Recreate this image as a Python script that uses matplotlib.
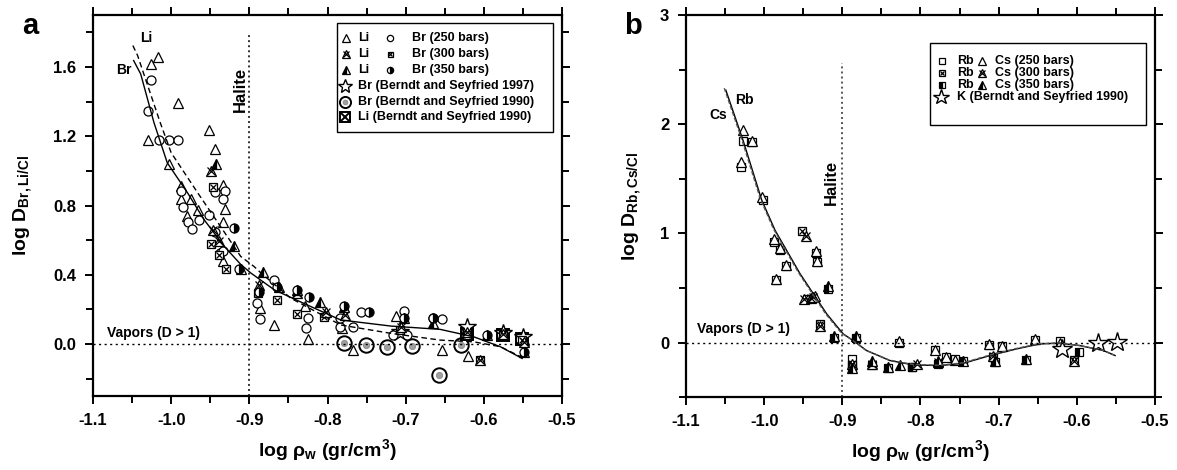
import matplotlib
matplotlib.use("Agg")
import matplotlib.pyplot as plt
from matplotlib.ticker import MultipleLocator, FormatStrFormatter
from matplotlib.patches import Rectangle

plt.rcParams['font.family'] = ['Liberation Sans', 'DejaVu Sans']
plt.rcParams['font.weight'] = 'bold'
plt.rcParams['axes.unicode_minus'] = False
plt.rcParams['mathtext.fontset'] = 'custom'
plt.rcParams['mathtext.rm'] = 'Liberation Sans:bold'
plt.rcParams['mathtext.it'] = 'Liberation Sans:bold'
plt.rcParams['mathtext.bf'] = 'Liberation Sans:bold'

# ---------------- Panel a data ----------------
li250_x = [-1.017, -1.026, -0.991, -1.029, -1.003, -0.952, -0.944, -0.987, -0.988, -0.974, -0.966, -0.980,
           -0.934, -0.931, -0.934, -0.934, -0.886, -0.868, -0.825, -0.829, -0.781, -0.767, -0.713, -0.654, -0.620]
li250_y = [1.656, 1.617, 1.391, 1.177, 1.038, 1.235, 1.129, 0.912, 0.835, 0.835, 0.773, 0.742,
           0.916, 0.781, 0.703, 0.480, 0.207, 0.110, 0.027, 0.220, 0.091, -0.035, 0.162, -0.035, -0.070]
br250_x = [-1.026, -1.029, -1.016, -1.003, -0.991, -0.987, -0.985, -0.979, -0.973, -0.964, -0.951, -0.944,
           -0.931, -0.934, -0.944, -0.937, -0.934, -0.886, -0.890, -0.868, -0.825, -0.828, -0.784, -0.767,
           -0.757, -0.702, -0.716, -0.698, -0.654, -0.665, -0.784]
br250_y = [1.527, 1.347, 1.179, 1.179, 1.179, 0.883, 0.790, 0.703, 0.665, 0.719, 0.744, 0.877,
           0.883, 0.835, 0.645, 0.526, 0.535, 0.143, 0.240, 0.371, 0.149, 0.091, 0.097, 0.097,
           0.187, 0.191, 0.052, 0.052, 0.143, 0.149, 0.149]
br300_x = [-0.949, -0.939, -0.930, -0.946, -0.864, -0.839, -0.889, -0.804, -0.707, -0.622, -0.605, -0.575, -0.551]
br300_y = [0.580, 0.516, 0.433, 0.908, 0.255, 0.174, 0.297, 0.158, 0.081, 0.052, -0.093, 0.052, 0.023]
li300_x = [-0.949, -0.947, -0.939, -0.888, -0.839, -0.802, -0.778, -0.706, -0.622, -0.605, -0.549, -0.575]
li300_y = [0.999, 0.661, 0.593, 0.342, 0.294, 0.187, 0.168, 0.097, 0.070, -0.090, 0.013, 0.060]
li350_x = [-0.943, -0.920, -0.911, -0.882, -0.862, -0.839, -0.810, -0.779, -0.702, -0.665, -0.596, -0.549]
li350_y = [1.038, 0.568, 0.433, 0.419, 0.332, 0.313, 0.245, 0.216, 0.149, 0.120, 0.052, -0.045]
br350_x = [-0.920, -0.913, -0.864, -0.839, -0.824, -0.779, -0.747, -0.702, -0.665, -0.596, -0.549, -0.888]
br350_y = [0.671, 0.433, 0.332, 0.313, 0.274, 0.220, 0.187, 0.149, 0.149, 0.052, -0.045, 0.300]
br1997_x = [-0.707, -0.622, -0.575, -0.550]
br1997_y = [0.070, 0.100, 0.065, 0.040]
br1990_x = [-0.779, -0.751, -0.724, -0.692, -0.658, -0.629]
br1990_y = [0.004, -0.006, -0.015, -0.012, -0.176, -0.006]
li1990_x = [-0.622, -0.575, -0.551]
li1990_y = [0.060, 0.050, 0.030]

brfit_x = [-1.048, -1.039, -1.022, -1.005, -0.979, -0.958, -0.932, -0.911, -0.898, -0.868, -0.826, -0.783,
           -0.719, -0.656, -0.613, -0.579, -0.551]
brfit_y = [1.637, 1.560, 1.279, 1.047, 0.873, 0.719, 0.564, 0.460, 0.410, 0.313, 0.226, 0.139,
           0.104, 0.085, 0.042, -0.015, -0.083]
lifit_x = [-1.049, -1.043, -1.014, -1.000, -0.966, -0.937, -0.911, -0.894, -0.885, -0.847, -0.783,
           -0.719, -0.656, -0.613, -0.579, -0.551]
lifit_y = [1.724, 1.667, 1.279, 1.105, 0.873, 0.680, 0.506, 0.448, 0.410, 0.265, 0.110,
           0.062, 0.023, 0.013, -0.015, -0.077]

# ---------------- Panel b data ----------------
cs250_x = [-1.027, -1.016, -1.030, -1.003, -0.987, -0.980, -0.972, -0.985, -0.934, -0.932, -0.935,
           -0.828, -0.781, -0.767, -0.756, -0.712, -0.696, -0.654, -0.622]
cs250_y = [1.945, 1.850, 1.650, 1.330, 0.950, 0.870, 0.710, 0.580, 0.840, 0.750, 0.430,
           0.010, -0.070, -0.130, -0.160, -0.010, -0.030, 0.030, 0.000]
rb250_x = [-1.027, -1.016, -1.029, -1.002, -0.987, -0.980, -0.972, -0.985, -0.934, -0.932, -0.888,
           -0.828, -0.781, -0.767, -0.756, -0.712, -0.696, -0.654, -0.622]
rb250_y = [1.850, 1.840, 1.610, 1.310, 0.920, 0.850, 0.700, 0.570, 0.820, 0.740, -0.150,
           -0.000, -0.070, -0.130, -0.150, -0.020, -0.030, 0.020, 0.010]
cs300_x = [-0.946, -0.949, -0.940, -0.937, -0.929, -0.888, -0.862, -0.805, -0.777, -0.707, -0.604]
cs300_y = [0.980, 0.400, 0.410, 0.420, 0.150, -0.200, -0.200, -0.200, -0.180, -0.120, -0.170]
rb300_x = [-0.952, -0.945, -0.929, -0.888, -0.862, -0.811, -0.707, -0.604]
rb300_y = [1.020, 0.400, 0.170, -0.220, -0.210, -0.220, -0.130, -0.160]
cs350_x = [-0.918, -0.910, -0.882, -0.888, -0.862, -0.841, -0.826, -0.777, -0.745, -0.705, -0.665]
cs350_y = [0.520, 0.060, 0.060, -0.230, -0.170, -0.220, -0.210, -0.170, -0.170, -0.170, -0.150]
rb350_x = [-0.918, -0.910, -0.882, -0.888, -0.841, -0.811, -0.777, -0.745, -0.705, -0.665, -0.597]
rb350_y = [0.490, 0.040, 0.040, -0.210, -0.230, -0.220, -0.200, -0.170, -0.180, -0.160, -0.090]
k1990_x = [-0.619, -0.573, -0.549]
k1990_y = [-0.060, -0.006, 0.003]

rbfit_x = [-1.049, -1.027, -1.003, -0.986, -0.954, -0.920, -0.899, -0.886, -0.869, -0.839, -0.809,
           -0.775, -0.745, -0.711, -0.677, -0.647, -0.622, -0.596, -0.566, -0.551]
rbfit_y = [2.312, 1.853, 1.303, 1.028, 0.630, 0.263, 0.080, 0.018, -0.073, -0.165, -0.205,
           -0.211, -0.190, -0.119, -0.058, -0.012, -0.006, -0.028, -0.073, -0.119]
csfit_x = [-1.051, -1.029, -1.005, -0.988, -0.956, -0.922, -0.901, -0.887, -0.870, -0.840, -0.810,
           -0.776, -0.746, -0.712, -0.678, -0.648, -0.623, -0.597, -0.567, -0.552]
csfit_y = [2.330, 1.870, 1.320, 1.040, 0.640, 0.270, 0.085, 0.022, -0.070, -0.160, -0.200,
           -0.208, -0.186, -0.116, -0.055, -0.010, -0.004, -0.026, -0.070, -0.115]

fig = plt.figure(figsize=(11.77, 4.70), dpi=100)
axa = fig.add_axes([0.0790, 0.1574, 0.3985, 0.8106])
axb = fig.add_axes([0.5828, 0.1550, 0.3985, 0.8130])

MS = 6.5

def pts(ax, x, y, kind, ms=MS, **kw):
    if kind == 'tri':
        ax.plot(x, y, ls='none', marker='^', ms=ms, mfc='white', mec='black', mew=0.9, **kw)
    elif kind == 'circ':
        ax.plot(x, y, ls='none', marker='o', ms=ms, mfc='white', mec='black', mew=0.9, **kw)
    elif kind == 'sq':
        ax.plot(x, y, ls='none', marker='s', ms=ms * 0.85, mfc='white', mec='black', mew=0.9, **kw)
    elif kind == 'trix':
        ax.plot(x, y, ls='none', marker='^', ms=ms, mfc='white', mec='black', mew=0.9, **kw)
        ax.plot(x, y, ls='none', marker='x', ms=ms * 0.9, mec='black', mew=0.9, **kw)
    elif kind == 'sqx':
        ax.plot(x, y, ls='none', marker='s', ms=ms * 0.8, mfc='white', mec='black', mew=0.9, **kw)
        ax.plot(x, y, ls='none', marker='x', ms=ms * 0.7, mec='black', mew=0.9, **kw)
    elif kind == 'trih':
        ax.plot(x, y, ls='none', marker='^', ms=ms, mfc='black', mfcalt='white', fillstyle='left',
                mec='black', mew=0.9, **kw)
    elif kind == 'circh':
        ax.plot(x, y, ls='none', marker='o', ms=ms, mfc='black', mfcalt='white', fillstyle='right',
                mec='black', mew=0.9, **kw)
    elif kind == 'sqh':
        ax.plot(x, y, ls='none', marker='s', ms=ms * 0.85, mfc='black', mfcalt='white', fillstyle='left',
                mec='black', mew=0.9, **kw)
    elif kind == 'star':
        ax.plot(x, y, ls='none', marker='*', ms=ms * 2.1, mfc='white', mec='black', mew=1.0, **kw)
    elif kind == 'bigcirc':
        ax.plot(x, y, ls='none', marker='o', ms=ms * 1.6, mfc='white', mec='black', mew=1.4, **kw)
        ax.plot(x, y, ls='none', marker='o', ms=ms * 0.7, mfc='#a0a0a0', mec='#808080', mew=0.5, **kw)
    elif kind == 'bigsqx':
        ax.plot(x, y, ls='none', marker='s', ms=ms * 1.4, mfc='none', mec='black', mew=1.4, **kw)
        ax.plot(x, y, ls='none', marker='x', ms=ms * 1.4, mec='black', mew=1.4, **kw)

# ---- panel a ----
axa.plot(brfit_x, brfit_y, color='black', lw=1.0, zorder=3)
axa.plot(lifit_x, lifit_y, color='black', lw=1.0, ls=(0, (4, 2.5)), zorder=3)
pts(axa, br1990_x, br1990_y, 'bigcirc')
pts(axa, li1990_x, li1990_y, 'bigsqx')
pts(axa, br1997_x, br1997_y, 'star')
pts(axa, li250_x, li250_y, 'tri')
pts(axa, br250_x, br250_y, 'circ')
pts(axa, br300_x, br300_y, 'sqx')
pts(axa, li300_x, li300_y, 'trix')
pts(axa, li350_x, li350_y, 'trih')
pts(axa, br350_x, br350_y, 'circh')

axa.axvline(-0.9, ymin=0, ymax=(1.80 + 0.3) / 2.2, color='#333333', lw=1.4, ls=(0, (1, 1.6)))
axa.axhline(0.0, color='black', lw=1.0, ls=(0, (1.5, 2.5)))
axa.text(-0.912, 1.47, 'Halite', rotation=90, ha='center', va='center', fontsize=12, fontweight='bold')
axa.text(-1.082, 0.025, 'Vapors (D > 1)', ha='left', va='bottom', fontsize=10, fontweight='bold')
axa.text(-1.032, 1.77, 'Li', ha='center', va='center', fontsize=10, fontweight='bold')
axa.text(-1.060, 1.58, 'Br', ha='center', va='center', fontsize=10, fontweight='bold')

axa.set_xlim(-1.1, -0.5)
axa.set_ylim(-0.3, 1.9)
axa.xaxis.set_major_locator(MultipleLocator(0.1))
axa.xaxis.set_minor_locator(MultipleLocator(0.05))
axa.yaxis.set_major_locator(MultipleLocator(0.4))
axa.yaxis.set_minor_locator(MultipleLocator(0.2))
axa.xaxis.set_major_formatter(FormatStrFormatter('%.1f'))
axa.yaxis.set_major_formatter(FormatStrFormatter('%.1f'))
axa.set_xlabel(r'log $\rho_{w}$ (gr/cm$^{3}$)', fontsize=14, fontweight='bold', labelpad=7)
axa.set_ylabel(r'log D$_{Br,Li/Cl}$', fontsize=14, fontweight='bold', labelpad=14)

# legend (manual, positions measured in reference pixels)
def axfr(ax, px, py, x0, x1, y0, y1):
    return (px - x0) / (x1 - x0), (y1 - py) / (y1 - y0)

A = (92, 562, 15, 396)
B = (686, 1155, 15, 397)

def box(ax, geo, px0, py0, px1, py1):
    fx0, fy0 = axfr(ax, px0, py1, *geo)
    fx1, fy1 = axfr(ax, px1, py0, *geo)
    ax.add_patch(Rectangle((fx0, fy0), fx1 - fx0, fy1 - fy0, transform=ax.transAxes,
                           fill=True, facecolor='white', edgecolor='black', lw=1.0, zorder=5))

def legmark(ax, geo, px, py, kind, ms=5.5):
    fx, fy = axfr(ax, px, py, *geo)
    pts(ax, [fx], [fy], kind, ms=ms, transform=ax.transAxes, zorder=6, clip_on=False)

def legtext(ax, geo, px, py, s):
    fx, fy = axfr(ax, px, py, *geo)
    ax.text(fx, fy, s, transform=ax.transAxes, ha='left', va='center', fontsize=9,
            fontweight='bold', zorder=6)

box(axa, A, 337, 23, 553, 132)
rowsA = [37.5, 54, 70, 86, 101.7, 117.3]
for py, k1, k2, t2 in [(rowsA[0], 'tri', 'circ', 'Br (250 bars)'),
                       (rowsA[1], 'trix', 'sqx', 'Br (300 bars)'),
                       (rowsA[2], 'trih', 'circh', 'Br (350 bars)')]:
    legmark(axa, A, 346, py, k1)
    legtext(axa, A, 358, py, 'Li')
    legmark(axa, A, 390, py, k2, ms=4.5)
    legtext(axa, A, 412, py, t2)
legmark(axa, A, 345, rowsA[3], 'star', ms=5.0)
legtext(axa, A, 358, rowsA[3], 'Br (Berndt and Seyfried 1997)')
legmark(axa, A, 345, rowsA[4], 'bigcirc', ms=5.0)
legtext(axa, A, 358, rowsA[4], 'Br (Berndt and Seyfried 1990)')
legmark(axa, A, 345, rowsA[5], 'bigsqx', ms=5.0)
legtext(axa, A, 358, rowsA[5], 'Li (Berndt and Seyfried 1990)')

# ---- panel b ----
axb.plot(rbfit_x, rbfit_y, color='black', lw=1.0, zorder=3)
axb.plot(csfit_x, csfit_y, color='#555555', lw=1.0, ls=(0, (3, 1.5)), zorder=3)
pts(axb, rb250_x, rb250_y, 'sq')
pts(axb, rb300_x, rb300_y, 'sqx')
pts(axb, rb350_x, rb350_y, 'sqh')
pts(axb, cs250_x, cs250_y, 'tri')
pts(axb, cs300_x, cs300_y, 'trix')
pts(axb, cs350_x, cs350_y, 'trih')
pts(axb, k1990_x, k1990_y, 'star', ms=7)

axb.axvline(-0.9, ymin=0, ymax=(2.56 + 0.5) / 3.5, color='#555555', lw=1.4, ls=(0, (1, 1.6)))
axb.axhline(0.0, color='black', lw=1.0, ls=(0, (1.5, 2.5)))
axb.text(-0.914, 1.47, 'Halite', rotation=90, ha='center', va='center', fontsize=12, fontweight='bold')
axb.text(-1.086, 0.06, 'Vapors (D > 1)', ha='left', va='bottom', fontsize=10, fontweight='bold')
axb.text(-1.025, 2.22, 'Rb', ha='center', va='center', fontsize=10, fontweight='bold')
axb.text(-1.059, 2.08, 'Cs', ha='center', va='center', fontsize=10, fontweight='bold')

axb.set_xlim(-1.1, -0.5)
axb.set_ylim(-0.5, 3.0)
axb.xaxis.set_major_locator(MultipleLocator(0.1))
axb.xaxis.set_minor_locator(MultipleLocator(0.05))
axb.yaxis.set_major_locator(MultipleLocator(1))
axb.yaxis.set_minor_locator(MultipleLocator(0.5))
axb.xaxis.set_major_formatter(FormatStrFormatter('%.1f'))
axb.yaxis.set_major_formatter(FormatStrFormatter('%d'))
axb.set_xlabel(r'log $\rho_{w}$ (gr/cm$^{3}$)', fontsize=14, fontweight='bold', labelpad=7)
axb.set_ylabel(r'log D$_{Rb,Cs/Cl}$', fontsize=14, fontweight='bold', labelpad=12)

box(axb, B, 930, 43, 1146, 125)
rowsB = [60.7, 72.7, 84.7, 96.7]
for py, k1, k2, t2 in [(rowsB[0], 'sq', 'tri', 'Cs (250 bars)'),
                       (rowsB[1], 'sqx', 'trix', 'Cs (300 bars)'),
                       (rowsB[2], 'sqh', 'trih', 'Cs (350 bars)')]:
    legmark(axb, B, 942, py, k1, ms=5)
    legtext(axb, B, 957, py, 'Rb')
    legmark(axb, B, 982, py, k2, ms=5.5)
    legtext(axb, B, 995, py, t2)
legmark(axb, B, 941, rowsB[3], 'star', ms=5.5)
legtext(axb, B, 957, rowsB[3], 'K (Berndt and Seyfried 1990)')

for ax in (axa, axb):
    for s in ax.spines.values():
        s.set_linewidth(1.6)
    ax.tick_params(which='both', direction='out', top=True, right=True, width=1.4,
                   labelsize=12, pad=6)
    ax.tick_params(which='major', length=6)
    ax.tick_params(which='minor', length=5)
    for lab in ax.get_xticklabels() + ax.get_yticklabels():
        lab.set_fontweight('bold')

fig.text(0.019, 0.945, 'a', fontsize=21, fontweight='bold', ha='left', va='center')
fig.text(0.530, 0.945, 'b', fontsize=21, fontweight='bold', ha='left', va='center')

fig.savefig('out.png', dpi=100)
